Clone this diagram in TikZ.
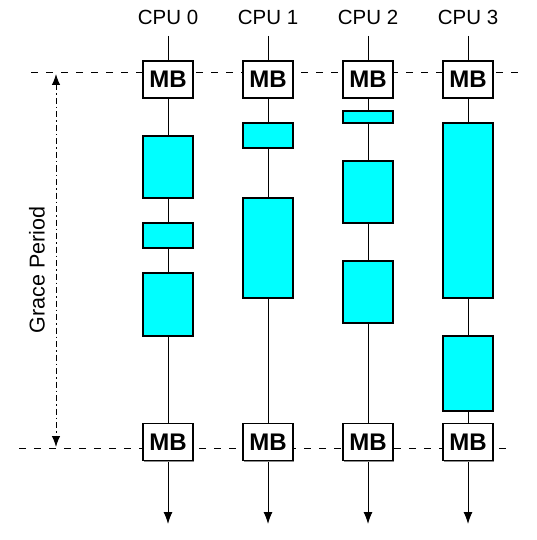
\documentclass[tikz,border=0pt]{standalone}
\usepackage{fontspec}
\setmainfont{Liberation Sans}
\usetikzlibrary{arrows.meta,positioning,backgrounds,shadows}
\definecolor{ReadCS}{HTML}{00FFFF}
\definecolor{Shade}{HTML}{8C8C8C}

\begin{document}
\begin{tikzpicture}[x=1pt,y=-1pt,
    every node/.style={font=\fontsize{20.5}{24}\selectfont},
    boxshadow/.style={drop shadow={shadow xshift=1.2pt,shadow yshift=-1.2pt,fill=Shade,opacity=1}},
    mbbox/.style={draw,fill=white,line width=1.2pt,minimum width=50pt,minimum height=37pt,
      inner sep=0pt,font=\fontsize{24}{27}\selectfont\bfseries,boxshadow},
    csbox/.style={draw,fill=ReadCS,line width=1.2pt,minimum width=50pt,minimum height=#1,
      inner sep=0pt,boxshadow},
    timeline/.style={line width=1pt,-{Latex[length=12pt,width=9pt]}},
    gpline/.style={line width=1pt,dash pattern=on 7pt off 8pt},
    gparrow/.style={line width=1pt,dash pattern=on 6pt off 3pt on 1.5pt off 3pt,
      {Latex[length=11pt,width=8.5pt]}-{Latex[length=11pt,width=8.5pt]}}]
  \useasboundingbox (0,0) rectangle (536,540);

  % CPUs with their memory barriers
  \foreach \i/\x in {0/168,1/268,2/368,3/468} {
    \node (cpu\i) at (\x,17.5) {CPU \i};
    \node[mbbox] (mbt\i) at (\x,79.5) {MB};
    \node[mbbox] (mbb\i) at (\x,442) {MB};
    \coordinate (end\i) at (\x,524);
  }

  % read-side critical sections: cpu/centre/height
  \foreach \i/\y/\h [count=\k] in {0/167/62,0/235.5/25,0/304.5/63,
      1/135.5/25,1/248/100,
      2/117/12,2/192/62,2/292/62,
      3/210.5/175,3/373.5/75}
    \node[csbox=\h pt] (cs\k) at (168+100*\i,\y) {};

  % grace period bounds
  \coordinate (gtl) at (31,73);
  \coordinate (gtr) at (518,73);
  \coordinate (gbl) at (19,448);
  \coordinate (gbr) at (506,448);
  \coordinate (gpt) at (56,74);
  \coordinate (gpb) at (56,447);
  \node[rotate=90,font=\fontsize{21.5}{25}\selectfont] (gplbl) at (37,270) {Grace Period};

  \begin{scope}[on background layer]
    \foreach \i in {0,...,3}
      \draw[timeline] (cpu\i) ++(0,18.5) -- (end\i);
    \draw[gpline] (gtl) -- (gtr);
    \draw[gpline] (gbl) -- (gbr);
  \end{scope}
  \draw[gparrow] (gpt) -- (gpb);
\end{tikzpicture}
\end{document}
